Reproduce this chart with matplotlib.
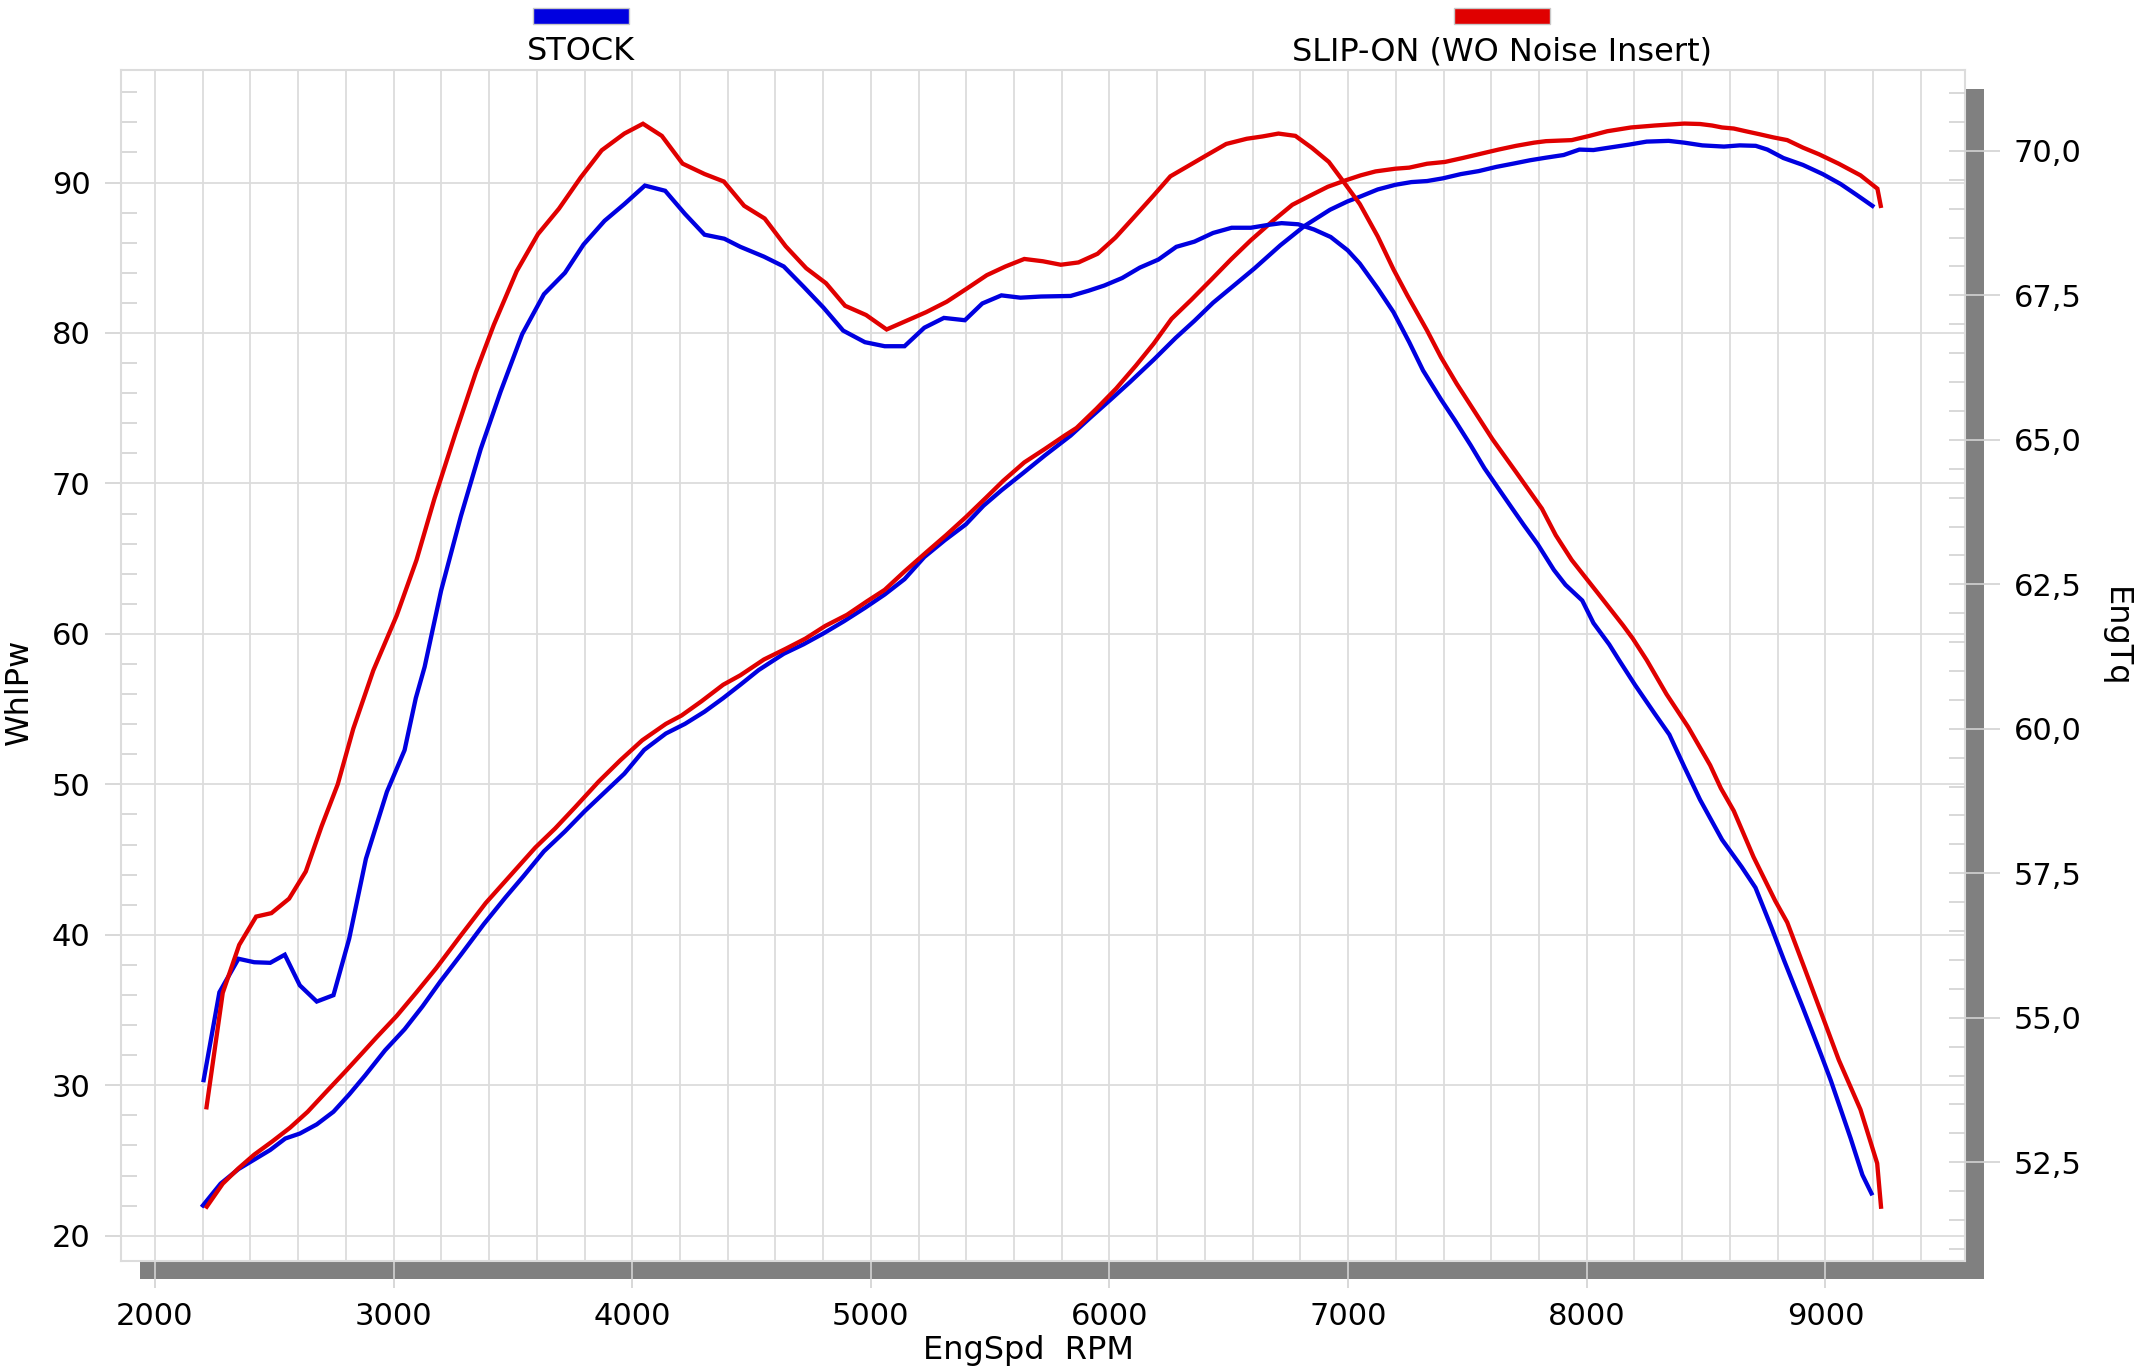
import matplotlib
matplotlib.use('Agg')
import matplotlib.pyplot as plt
from matplotlib.patches import Rectangle
from matplotlib.ticker import MultipleLocator, FuncFormatter

plt.rcParams['font.family'] = ['DejaVu Sans']

# wheel power, left axis (WhlPw)
stock_pw_rpm = [2201, 2275, 2350, 2416, 2483, 2546, 2607, 2678, 2748, 2814,
                2881, 2964, 3046, 3121, 3196, 3282, 3378, 3469, 3544, 3630,
                3718, 3801, 3889, 3967, 4050, 4141, 4221, 4303, 4381, 4453,
                4530, 4635, 4718, 4801, 4887, 4975, 5058, 5141, 5224, 5310,
                5398, 5472, 5547, 5638, 5729, 5837, 5920, 6003, 6086, 6185,
                6277, 6356, 6434, 6517, 6608, 6716, 6816, 6924, 6998, 7053,
                7124, 7198, 7265, 7331, 7397, 7472, 7547, 7621, 7696, 7762,
                7828, 7903, 7969, 8028, 8102, 8177, 8251, 8343, 8409, 8484,
                8575, 8641, 8708, 8757, 8824, 8906, 8989, 9064, 9130, 9197]
stock_pw = [22.01, 23.46, 24.43, 25.06, 25.70, 26.46, 26.79, 27.40, 28.24, 29.39,
            30.66, 32.32, 33.72, 35.24, 36.90, 38.68, 40.71, 42.49, 43.89, 45.55,
            46.87, 48.22, 49.54, 50.71, 52.29, 53.38, 54.02, 54.83, 55.73, 56.62,
            57.60, 58.68, 59.31, 60.03, 60.84, 61.73, 62.62, 63.64, 65.11, 66.23,
            67.28, 68.52, 69.54, 70.69, 71.86, 73.18, 74.38, 75.55, 76.74, 78.22,
            79.67, 80.81, 82.01, 83.10, 84.30, 85.83, 87.10, 88.19, 88.75, 89.08,
            89.54, 89.85, 90.03, 90.10, 90.28, 90.56, 90.76, 91.04, 91.27, 91.48,
            91.65, 91.83, 92.19, 92.16, 92.34, 92.52, 92.72, 92.77, 92.65, 92.47,
            92.39, 92.47, 92.44, 92.19, 91.63, 91.17, 90.56, 89.90, 89.19, 88.45]

slipon_pw_rpm = [2217, 2284, 2350, 2416, 2491, 2566, 2640, 2715, 2798, 2872,
                 2930, 3013, 3096, 3179, 3279, 3386, 3511, 3594, 3677, 3760,
                 3859, 3950, 4042, 4141, 4207, 4290, 4381, 4453, 4552, 4643,
                 4726, 4809, 4900, 4983, 5058, 5141, 5232, 5315, 5398, 5481,
                 5555, 5643, 5729, 5812, 5862, 5945, 6028, 6111, 6185, 6260,
                 6343, 6426, 6509, 6592, 6683, 6766, 6841, 6915, 6990, 7053,
                 7115, 7198, 7256, 7331, 7406, 7480, 7555, 7630, 7704, 7779,
                 7829, 7937, 8011, 8086, 8185, 8285, 8409, 8475, 8525, 8567,
                 8616, 8666, 8724, 8782, 8840, 8906, 8973, 9056, 9147, 9218,
                 9232]
slipon_pw = [21.93, 23.46, 24.48, 25.39, 26.26, 27.18, 28.24, 29.52, 30.92, 32.20,
             33.21, 34.61, 36.18, 37.79, 39.90, 42.11, 44.33, 45.80, 47.07, 48.47,
             50.18, 51.60, 52.93, 54.02, 54.58, 55.52, 56.62, 57.25, 58.30, 59.01,
             59.69, 60.53, 61.27, 62.16, 62.93, 64.15, 65.42, 66.56, 67.76, 69.03,
             70.18, 71.40, 72.29, 73.18, 73.69, 74.96, 76.31, 77.84, 79.29, 80.94,
             82.21, 83.54, 84.89, 86.16, 87.43, 88.52, 89.13, 89.72, 90.15, 90.48,
             90.74, 90.92, 90.99, 91.25, 91.37, 91.63, 91.91, 92.19, 92.44, 92.65,
             92.75, 92.82, 93.10, 93.41, 93.66, 93.79, 93.92, 93.89, 93.79, 93.66,
             93.59, 93.41, 93.21, 93.00, 92.82, 92.32, 91.88, 91.25, 90.48, 89.59,
             88.45]

# engine torque, right axis (EngTq)
stock_tq_rpm = [2204, 2270, 2350, 2416, 2483, 2544, 2607, 2678, 2748, 2814,
                2884, 2972, 3046, 3093, 3130, 3199, 3282, 3365, 3448, 3539,
                3630, 3718, 3796, 3884, 3967, 4053, 4138, 4221, 4303, 4386,
                4453, 4552, 4635, 4718, 4801, 4884, 4975, 5058, 5141, 5224,
                5306, 5394, 5467, 5547, 5627, 5713, 5837, 5912, 5978, 6053,
                6127, 6205, 6280, 6356, 6434, 6512, 6592, 6666, 6721, 6791,
                6857, 6927, 6998, 7049, 7124, 7190, 7256, 7314, 7389, 7447,
                7513, 7571, 7621, 7688, 7737, 7795, 7862, 7911, 7981, 8028,
                8094, 8135, 8202, 8285, 8346, 8409, 8475, 8567, 8649, 8707,
                8774, 8827, 8906, 8981, 9023, 9106, 9155, 9193]
stock_tq = [53.92, 55.44, 56.02, 55.96, 55.95, 56.09, 55.56, 55.28, 55.39, 56.37,
            57.75, 58.91, 59.63, 60.53, 61.07, 62.39, 63.68, 64.84, 65.83, 66.83,
            67.52, 67.89, 68.38, 68.79, 69.08, 69.40, 69.31, 68.91, 68.55, 68.48,
            68.34, 68.17, 68.00, 67.65, 67.29, 66.89, 66.69, 66.62, 66.62, 66.94,
            67.11, 67.07, 67.36, 67.50, 67.46, 67.48, 67.49, 67.58, 67.67, 67.80,
            67.98, 68.12, 68.34, 68.43, 68.58, 68.67, 68.67, 68.72, 68.75, 68.73,
            68.64, 68.51, 68.28, 68.05, 67.62, 67.21, 66.69, 66.20, 65.70, 65.34,
            64.91, 64.51, 64.21, 63.81, 63.52, 63.19, 62.75, 62.49, 62.22, 61.83,
            61.46, 61.19, 60.76, 60.26, 59.90, 59.34, 58.77, 58.08, 57.61, 57.25,
            56.56, 55.99, 55.17, 54.37, 53.91, 52.91, 52.28, 51.96]

slipon_tq_rpm = [2216, 2284, 2353, 2424, 2488, 2562, 2632, 2698, 2766, 2831,
                 2915, 3013, 3096, 3171, 3259, 3345, 3420, 3516, 3605, 3693,
                 3784, 3872, 3967, 4045, 4124, 4211, 4303, 4384, 4469, 4555,
                 4643, 4729, 4812, 4892, 4980, 5066, 5149, 5232, 5318, 5403,
                 5486, 5564, 5643, 5721, 5796, 5870, 5950, 6025, 6102, 6185,
                 6255, 6326, 6409, 6489, 6575, 6641, 6708, 6779, 6849, 6919,
                 6973, 7049, 7124, 7190, 7248, 7331, 7389, 7455, 7530, 7605,
                 7704, 7812, 7870, 7937, 8044, 8152, 8193, 8251, 8334, 8425,
                 8517, 8562, 8616, 8699, 8790, 8840, 8915, 8981, 9056, 9147,
                 9217, 9233]
slipon_tq = [53.45, 55.43, 56.26, 56.75, 56.81, 57.06, 57.53, 58.31, 59.04, 60.00,
             61.01, 61.96, 62.92, 63.98, 65.11, 66.17, 66.99, 67.92, 68.56, 69.00,
             69.54, 70.01, 70.30, 70.47, 70.26, 69.78, 69.60, 69.47, 69.05, 68.83,
             68.35, 67.97, 67.71, 67.32, 67.16, 66.91, 67.06, 67.21, 67.39, 67.62,
             67.85, 68.00, 68.13, 68.09, 68.03, 68.07, 68.22, 68.50, 68.85, 69.23,
             69.56, 69.73, 69.93, 70.12, 70.21, 70.25, 70.30, 70.26, 70.05, 69.81,
             69.51, 69.08, 68.52, 67.95, 67.50, 66.89, 66.43, 65.97, 65.49, 65.01,
             64.44, 63.81, 63.35, 62.92, 62.36, 61.79, 61.56, 61.19, 60.60, 60.03,
             59.37, 58.97, 58.58, 57.78, 57.02, 56.65, 55.83, 55.10, 54.27, 53.41,
             52.48, 51.73]

runs = ['STOCK', 'SLIP-ON (WO Noise Insert)']
run_colors = ['#0000e0', '#e00000']

W, H = 2149, 1368
grid_c = '#dcdcdc'
tick_c = '#d2d2d2'
lw = 3.1

fig = plt.figure(figsize=(W / 100, H / 100), dpi=100)
left, right, top, bottom = 120.6, 1965, 70, 1261
ax = fig.add_axes([left / W, 1 - bottom / H, (right - left) / W, (bottom - top) / H])
ax.set_facecolor('white')

# grey drop shadow behind the plot frame
fig.patches.append(Rectangle((139.6 / W, 1 - 1279 / H), (1984 - 139.6) / W, (1279 - 89) / H,
                             transform=fig.transFigure, facecolor='#808080',
                             edgecolor='none', zorder=-1))

ax.plot(stock_pw_rpm, stock_pw, color=run_colors[0], lw=lw, solid_joinstyle='miter')
ax.plot(slipon_pw_rpm, slipon_pw, color=run_colors[1], lw=lw, solid_joinstyle='miter')

ax.set_xlim(1856, 9585)
ax.set_ylim(18.32, 97.48)
ax.set_axisbelow(True)

ax.xaxis.set_major_locator(MultipleLocator(1000))
ax.xaxis.set_minor_locator(MultipleLocator(200))
ax.yaxis.set_major_locator(MultipleLocator(10))
ax.yaxis.set_minor_locator(MultipleLocator(2))
ax.grid(True, axis='x', which='both', color=grid_c, lw=1.3)
ax.grid(True, axis='y', which='major', color=grid_c, lw=1.3)

ax.tick_params(axis='x', which='major', direction='out', length=19.5, width=1.2,
               color=tick_c, labelsize=22, pad=10)
ax.tick_params(axis='x', which='minor', length=0)
ax.tick_params(axis='y', which='major', direction='out', length=11.5, width=1.2,
               color=tick_c, labelsize=22, pad=10)
ax.tick_params(axis='y', which='minor', direction='in', length=11.5, width=1.2,
               color=tick_c)
for sp in ax.spines.values():
    sp.set_color(grid_c)
    sp.set_linewidth(1.5)

ax2 = ax.twinx()
ax2.plot(stock_tq_rpm, stock_tq, color=run_colors[0], lw=lw, solid_joinstyle='miter')
ax2.plot(slipon_tq_rpm, slipon_tq, color=run_colors[1], lw=lw, solid_joinstyle='miter')
ax2.set_ylim(50.79, 71.40)
ax2.yaxis.set_major_locator(MultipleLocator(2.5))
ax2.yaxis.set_minor_locator(MultipleLocator(0.5))
ax2.yaxis.remove_overlapping_locs = False
ax2.yaxis.set_major_formatter(FuncFormatter(lambda v, p: f'{v:.1f}'.replace('.', ',')))
ax2.tick_params(axis='y', which='major', direction='out', length=25, width=1.2,
                color=tick_c, labelsize=22, pad=10)
ax2.tick_params(axis='y', which='minor', direction='in', length=11.5, width=1.2,
                color=tick_c)
for sp in ax2.spines.values():
    sp.set_visible(False)

fig.text(19 / W, 1 - 692 / H, 'WhlPw', rotation=90, fontsize=23, ha='center', va='center')
fig.text(2115 / W, 1 - 637 / H, 'EngTq', rotation=-90, fontsize=23, ha='center', va='center')
fig.text(1028 / W, 1 - 1350 / H, 'EngSpd  RPM', fontsize=23, ha='center', va='center')

# legend: colour swatch above each run name
for name, col, cx in zip(runs, run_colors, [581, 1502]):
    fig.patches.append(Rectangle(((cx - 48) / W, 1 - 24 / H), 96 / W, 16 / H,
                                 transform=fig.transFigure, facecolor=col,
                                 edgecolor='#c8c8c8', lw=1))
    fig.text(cx / W, 1 - 52 / H, name, fontsize=23, ha='center', va='center')

fig.savefig('out.png', dpi=100)
